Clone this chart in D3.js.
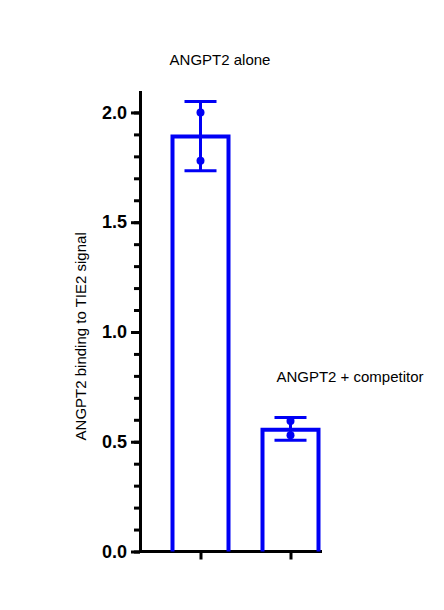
<!DOCTYPE html>
<html>
<head>
<meta charset="utf-8">
<script src="https://cdn.jsdelivr.net/npm/d3@7"></script>
<style>
  body { margin: 0; background: #fff; }
  text { font-family: Arial, "Liberation Sans", sans-serif; }
</style>
</head>
<body>
<div id="chart"></div>
<script>
// values
const categories = ["ANGPT2 alone", "ANGPT2 + competitor"];
const means = [1.89, 0.555];
const errLow = [1.735, 0.507];
const errHigh = [2.05, 0.61];
const points = [[2.0, 1.78], [0.595, 0.53]];
const majorTicks = [0.0, 0.5, 1.0, 1.5, 2.0];
const yLabel = "ANGPT2 binding to TIE2 signal";

const blue = "#0000f5";

const render = () => {
    const width = 444, height = 610;

    let svg = d3.select("#chart").append("svg")
        .attr("width", width)
        .attr("height", height);

    const y = d3.scaleLinear().domain([0, 2.1]).range([551.5, 90.5]);
    const x = d3.scalePoint().domain(categories).range([200.5, 290.5]);
    const barW = 56, capW = 32;

    // minor ticks
    svg.append("g")
        .attr("transform", "translate(140,0)")
        .call(d3.axisLeft(y).tickValues(d3.range(0, 21).map(i => i / 10)).tickSize(6).tickFormat(""))
        .call(g => g.selectAll("line,path").attr("stroke", "#000").attr("stroke-width", 3))
        .call(g => g.select(".domain").remove());

    // major ticks + axis line
    let yAxis = svg.append("g")
        .attr("transform", "translate(140,0)")
        .call(d3.axisLeft(y).tickValues(majorTicks).tickSize(9).tickSizeOuter(0).tickPadding(4).tickFormat(d3.format(".1f")));
    yAxis.selectAll("line,path").attr("stroke", "#000").attr("stroke-width", 3);
    yAxis.selectAll("text")
        .attr("font-size", 18).attr("font-weight", "bold").attr("fill", "#000")
        .attr("font-family", "Arial, 'Liberation Sans', sans-serif");

    // x axis
    let xAxis = svg.append("g")
        .attr("transform", `translate(0,${y(0)})`)
        .call(d3.axisBottom(x).tickSize(8).tickSizeOuter(0).tickFormat(""));
    xAxis.select(".domain").attr("d", `M140,0H322`);
    xAxis.selectAll("line,path").attr("stroke", "#000").attr("stroke-width", 3);

    // bars
    svg.append("g").selectAll("path")
        .data(categories)
        .join("path")
        .attr("d", (d, i) => {
            const x0 = x(d) - barW / 2, x1 = x(d) + barW / 2;
            return `M${x0},${y(0)}V${y(means[i])}H${x1}V${y(0)}`;
        })
        .attr("fill", "none")
        .attr("stroke", blue)
        .attr("stroke-width", 4);

    // error bars
    let err = svg.append("g").attr("stroke", blue).attr("stroke-width", 3);
    categories.forEach((c, i) => {
        err.append("line").attr("x1", x(c)).attr("x2", x(c)).attr("y1", y(errLow[i])).attr("y2", y(errHigh[i]));
        [errLow[i], errHigh[i]].forEach(v => {
            err.append("line").attr("x1", x(c) - capW / 2).attr("x2", x(c) + capW / 2).attr("y1", y(v)).attr("y2", y(v));
        });
    });

    // points
    svg.append("g").selectAll("circle")
        .data(categories.flatMap((c, i) => points[i].map(v => ({c, v}))))
        .join("circle")
        .attr("cx", d => x(d.c))
        .attr("cy", d => y(d.v))
        .attr("r", 4)
        .attr("fill", blue);

    // group labels
    const labelPos = [[220, 65], [350, 382]];
    svg.append("g").selectAll("text")
        .data(categories)
        .join("text")
        .attr("x", (d, i) => labelPos[i][0])
        .attr("y", (d, i) => labelPos[i][1])
        .attr("text-anchor", "middle")
        .attr("font-size", 15)
        .text(d => d);

    // y label
    svg.append("text")
        .attr("transform", `translate(86,${y(0.98)}) rotate(-90)`)
        .attr("text-anchor", "middle")
        .attr("font-size", 15)
        .text(yLabel);
}

render();
</script>
</body>
</html>
